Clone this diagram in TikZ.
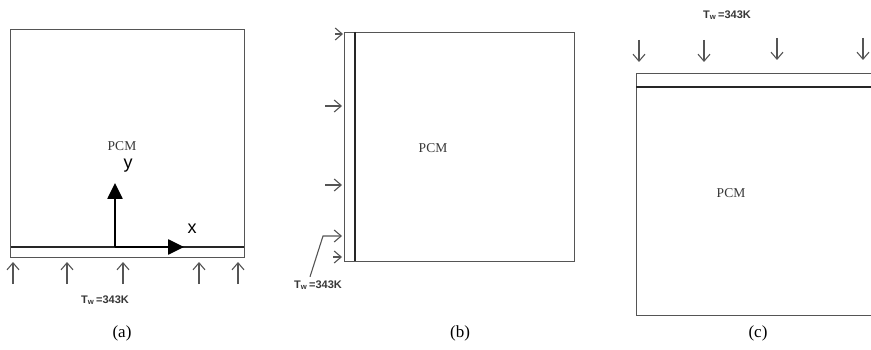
\documentclass[tikz,border=0pt]{standalone}
\usepackage{fontspec}
\setmainfont{Liberation Serif}
\setsansfont{Liberation Sans}
\usepackage{xcolor}
\definecolor{gray3}{RGB}{85,85,85}
\definecolor{text3}{RGB}{55,55,55}
\usepackage{tikz}
\usetikzlibrary{arrows.meta}
\newcommand{\Twall}{\sffamily\bfseries T\textsubscript{w}\,=343K}

\begin{document}
\begin{tikzpicture}[x=1pt, y=-1pt, >=Stealth,
  box/.style={draw=gray3, line width=0.9pt},
  wall/.style={draw=black!85, line width=2.2pt},
  heat/.style={draw=gray3, line width=1.1pt, -{Straight Barb[length=7pt, width=12pt]}},
  axis/.style={line width=2.6pt, -{Triangle[length=16pt, width=15pt]}},
  pcm/.style={text=text3, font=\fontsize{13.5}{15}\selectfont},
  twlab/.style={text=text3, font=\fontsize{11}{13}\selectfont},
  panelcap/.style={font=\fontsize{17}{19}\selectfont}]
  \useasboundingbox (0,0) rectangle (871,350);

  % (a): heated from below
  \draw[box] (10.7,29) rectangle (244,257);
  \draw[wall] (10.7,247) -- (244,247);
  \node[pcm] (pcma) at (122,146) {PCM};
  \coordinate (O) at (115,247);
  \coordinate (xtip) at (184,247);
  \coordinate (ytip) at (115,183);
  \draw[axis] (O) -- (xtip);
  \draw[axis] (O) -- (ytip);
  \node[font=\sffamily\fontsize{18}{20}\selectfont] (xlab) at (192,229) {x};
  \node[font=\sffamily\fontsize{18}{20}\selectfont] (ylab) at (128,166) {y};
  % heat flux arrows
  \draw[heat] (13,284) -- (13,262);
  \draw[heat] (67,284) -- (67,262);
  \draw[heat] (123,284) -- (123,262);
  \draw[heat] (199,284) -- (199,262);
  \draw[heat] (238,284) -- (238,262);
  \node[twlab] (twa) at (105,300) {\Twall};
  \node[panelcap] (capa) at (122,333) {(a)};

  % (b): heated from the left
  \draw[box] (344,32) rectangle (574,261);
  \draw[wall] (355,32) -- (355,261);
  \node[pcm] (pcmb) at (433,148) {PCM};
  \draw[heat] (335,34) -- (343,34);
  \draw[heat] (325,106) -- (342,106);
  \draw[heat] (325,185) -- (342,185);
  \draw[heat] (333,257) -- (342,257);
  \node[twlab] (twb) at (318,285) {\Twall};
  \coordinate (bend) at (323,236);
  \draw[heat] ([xshift=-8pt]twb.north) -- (bend) -- (342,236);
  \node[panelcap] (capb) at (460,333) {(b)};

  % (c): heated from above
  \draw[box] (636,73) rectangle (880,315);
  \draw[wall] (636,87) -- (880,87);
  \node[pcm] (pcmc) at (731,193) {PCM};
  \draw[heat] (639,40) -- (639,62);
  \draw[heat] (704,40) -- (704,62);
  \draw[heat] (777,38) -- (777,60);
  \draw[heat] (863,38) -- (863,60);
  \node[twlab] (twc) at (727,15) {\Twall};
  \node[panelcap] (capc) at (758,333) {(c)};
\end{tikzpicture}
\end{document}
